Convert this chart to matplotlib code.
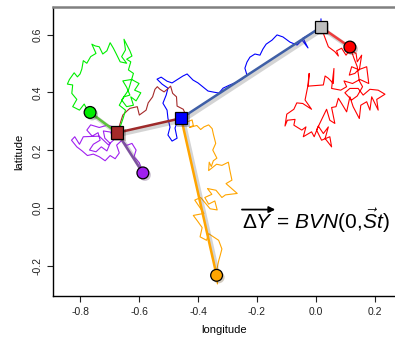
import matplotlib
matplotlib.use("Agg")
import matplotlib.pyplot as plt
import matplotlib.patheffects as pe

plt.rcParams["font.family"] = ["Liberation Sans", "DejaVu Sans"]
plt.rcParams["mathtext.fontset"] = "custom"
plt.rcParams["mathtext.rm"] = "Liberation Sans"
plt.rcParams["mathtext.it"] = "Liberation Sans:italic"

# node positions (longitude, latitude)
root = (0.017, 0.626)
red_tip = (0.115, 0.557)
blue_node = (-0.457, 0.311)
brown_node = (-0.674, 0.261)
green_tip = (-0.766, 0.331)
purple_tip = (-0.587, 0.122)
orange_tip = (-0.337, -0.232)

# simulated walks along each branch
blue_x = [0.017, 0.017, 0.0, -0.044, -0.027, -0.047, -0.064, -0.088, -0.112, -0.132,
          -0.149, -0.169, -0.180, -0.190, -0.207, -0.224, -0.234, -0.241, -0.234, -0.251,
          -0.268, -0.292, -0.315, -0.329, -0.346, -0.366, -0.383, -0.400, -0.417, -0.437,
          -0.451, -0.468, -0.488, -0.505, -0.525, -0.539, -0.522, -0.502, -0.508, -0.519,
          -0.505, -0.502, -0.495, -0.502, -0.488, -0.471, -0.478, -0.468, -0.458]
blue_y = [0.654, 0.626, 0.613, 0.588, 0.554, 0.581, 0.564, 0.574, 0.592, 0.599,
          0.581, 0.567, 0.550, 0.529, 0.533, 0.522, 0.505, 0.484, 0.460, 0.446,
          0.436, 0.426, 0.415, 0.398, 0.401, 0.405, 0.419, 0.433, 0.443, 0.464,
          0.457, 0.446, 0.433, 0.439, 0.453, 0.446, 0.429, 0.415, 0.391, 0.363,
          0.339, 0.311, 0.280, 0.253, 0.232, 0.242, 0.277, 0.304, 0.311]

red_x = [0.017, 0.042, 0.064, 0.076, 0.070, 0.087, 0.102, 0.115, 0.136, 0.140,
         0.155, 0.147, 0.121, 0.113, 0.132, 0.143, 0.172, 0.179, 0.149, 0.124,
         0.095, 0.104, 0.084, 0.053, 0.061, 0.059, 0.042, 0.031, 0.025, -0.026,
         -0.023, -0.028, -0.037, -0.015, -0.045, -0.065, -0.075, -0.099, -0.105, -0.097,
         -0.071, -0.075, -0.048, -0.034, -0.043, -0.015, -0.006, 0.008, 0.025, 0.042,
         0.031, 0.053, 0.047, 0.019, 0.002, 0.036, 0.047, 0.064, 0.053, 0.068,
         0.076, 0.087, 0.104, 0.115, 0.126, 0.147, 0.152, 0.172, 0.183, 0.189,
         0.211, 0.206, 0.234, 0.211, 0.183, 0.160, 0.143, 0.115, 0.098, 0.121,
         0.140, 0.158, 0.147, 0.140, 0.129, 0.120, 0.115]
red_y = [0.626, 0.558, 0.541, 0.526, 0.544, 0.553, 0.529, 0.547, 0.535, 0.506,
         0.529, 0.478, 0.489, 0.460, 0.466, 0.478, 0.489, 0.431, 0.445, 0.431,
         0.440, 0.420, 0.408, 0.414, 0.483, 0.431, 0.449, 0.457, 0.426, 0.422,
         0.466, 0.420, 0.374, 0.342, 0.362, 0.364, 0.342, 0.325, 0.284, 0.304,
         0.307, 0.287, 0.270, 0.281, 0.247, 0.264, 0.247, 0.284, 0.258, 0.281,
         0.241, 0.212, 0.247, 0.235, 0.270, 0.342, 0.304, 0.293, 0.348, 0.351,
         0.380, 0.362, 0.333, 0.385, 0.351, 0.310, 0.356, 0.368, 0.339, 0.385,
         0.339, 0.376, 0.394, 0.408, 0.411, 0.391, 0.414, 0.414, 0.399, 0.374,
         0.388, 0.420, 0.440, 0.489, 0.518, 0.544, 0.557]

brown_x = [-0.456, -0.439, -0.450, -0.471, -0.473, -0.486, -0.493, -0.501, -0.515, -0.529,
           -0.538, -0.546, -0.554, -0.569, -0.576, -0.599, -0.606, -0.631, -0.640, -0.655,
           -0.664, -0.674]
brown_y = [0.310, 0.316, 0.342, 0.353, 0.385, 0.397, 0.422, 0.414, 0.402, 0.411,
           0.420, 0.411, 0.385, 0.364, 0.339, 0.322, 0.351, 0.345, 0.337, 0.322,
           0.293, 0.259]

green_x = [-0.674, -0.664, -0.653, -0.646, -0.667, -0.651, -0.631, -0.642, -0.655, -0.625,
           -0.600, -0.615, -0.594, -0.610, -0.628, -0.619, -0.642, -0.659, -0.636, -0.619,
           -0.636, -0.628, -0.642, -0.624, -0.631, -0.651, -0.646, -0.659, -0.642, -0.664,
           -0.678, -0.687, -0.698, -0.709, -0.723, -0.735, -0.749, -0.760, -0.746, -0.764,
           -0.777, -0.789, -0.794, -0.800, -0.809, -0.820, -0.836, -0.843, -0.825, -0.828,
           -0.811, -0.825, -0.802, -0.786, -0.775, -0.766]
green_y = [0.261, 0.281, 0.314, 0.339, 0.356, 0.385, 0.391, 0.418, 0.440, 0.445,
           0.431, 0.408, 0.399, 0.371, 0.385, 0.356, 0.351, 0.374, 0.408, 0.466,
           0.478, 0.506, 0.515, 0.526, 0.544, 0.584, 0.547, 0.524, 0.501, 0.506,
           0.535, 0.553, 0.572, 0.544, 0.533, 0.558, 0.561, 0.567, 0.535, 0.524,
           0.501, 0.510, 0.481, 0.464, 0.454, 0.468, 0.445, 0.429, 0.426, 0.397,
           0.376, 0.351, 0.339, 0.360, 0.339, 0.333]

purple_x = [-0.674, -0.687, -0.707, -0.735, -0.764, -0.777, -0.759, -0.739, -0.732, -0.755,
            -0.768, -0.746, -0.728, -0.709, -0.698, -0.716, -0.721, -0.696, -0.687, -0.704,
            -0.735, -0.789, -0.802, -0.818, -0.829, -0.811, -0.793, -0.775, -0.755, -0.735,
            -0.715, -0.698, -0.681, -0.667, -0.676, -0.658, -0.642, -0.624, -0.610, -0.617,
            -0.599, -0.594, -0.587]
purple_y = [0.261, 0.281, 0.287, 0.279, 0.288, 0.270, 0.249, 0.261, 0.235, 0.221,
            0.201, 0.195, 0.212, 0.198, 0.224, 0.242, 0.267, 0.263, 0.235, 0.219,
            0.249, 0.247, 0.221, 0.247, 0.235, 0.212, 0.198, 0.182, 0.187, 0.178,
            0.164, 0.182, 0.171, 0.191, 0.218, 0.235, 0.217, 0.224, 0.201, 0.178,
            0.157, 0.141, 0.122]

orange_x = [-0.455, -0.438, -0.420, -0.416, -0.429, -0.404, -0.391, -0.380, -0.364, -0.352,
            -0.348, -0.340, -0.350, -0.336, -0.348, -0.355, -0.362, -0.364, -0.337, -0.319,
            -0.297, -0.292, -0.285, -0.305, -0.267, -0.307, -0.319, -0.339, -0.368, -0.353,
            -0.377, -0.364, -0.343, -0.335, -0.359, -0.391, -0.411, -0.380, -0.416, -0.402,
            -0.386, -0.393, -0.371, -0.364, -0.330, -0.319, -0.325, -0.330, -0.336, -0.334,
            -0.337]
orange_y = [0.310, 0.298, 0.305, 0.286, 0.279, 0.286, 0.272, 0.281, 0.288, 0.275,
            0.256, 0.224, 0.201, 0.173, 0.164, 0.144, 0.159, 0.130, 0.152, 0.148,
            0.159, 0.131, 0.097, 0.085, 0.051, 0.046, 0.037, 0.062, 0.068, 0.048,
            0.037, 0.014, 0.025, -0.006, -0.002, 0.037, 0.028, -0.018, -0.025, -0.044,
            -0.067, -0.099, -0.111, -0.088, -0.111, -0.141, -0.164, -0.182, -0.212, -0.262,
            -0.232]

walks = [
    (blue_x, blue_y, "#0000ff"),
    (red_x, red_y, "#ff0000"),
    (brown_x, brown_y, "#a52a2a"),
    (green_x, green_y, "#00ee00"),
    (purple_x, purple_y, "#a020f0"),
    (orange_x, orange_y, "#ffa500"),
]

# straight branches: parent, child, colour
branches = [
    (root, red_tip, "#ee3b3b"),
    (root, blue_node, "#3f5fa6"),
    (blue_node, brown_node, "#9e2a2a"),
    (blue_node, orange_tip, "#ffa500"),
    (brown_node, green_tip, "#5cc33a"),
    (brown_node, purple_tip, "#7d50a0"),
]

nodes = [
    (root, "s", "#bebebe"),
    (blue_node, "s", "#0000ff"),
    (brown_node, "s", "#a52a2a"),
    (red_tip, "o", "#ff0000"),
    (green_tip, "o", "#00ee00"),
    (purple_tip, "o", "#a020f0"),
    (orange_tip, "o", "#ffa500"),
]

fig = plt.figure(figsize=(3.95, 3.4), dpi=100)
ax = fig.add_axes([0.134, 0.129, 0.866, 0.85])

for xs, ys, c in walks:
    ax.plot(xs, ys, color=c, lw=0.8, zorder=2)

shadow = [pe.SimpleLineShadow(offset=(1.5, -1.5), shadow_color="#555555", alpha=0.25, linewidth=3),
          pe.Normal()]
for a, b, c in branches:
    ax.plot([a[0], b[0]], [a[1], b[1]], color=c, lw=1.8, zorder=3,
            solid_capstyle="butt", path_effects=shadow)

for p, m, c in nodes:
    ms = 9 if m == "s" else 8.5
    ax.plot(p[0], p[1], marker=m, ms=ms, mfc=c, mec="black", mew=0.9, zorder=4,
            path_effects=[pe.SimplePatchShadow(offset=(1.5, -1.5), alpha=0.25), pe.Normal()])

eq = ax.text(0.0, -0.073, r"$\Delta Y\,=\,BVN\mathrm{(0,}\!\vec{S}t\mathrm{)}$",
             fontsize=15, ha="center", va="baseline", zorder=5)
# long arrow over the Delta Y
ax.annotate("", xy=(0.225, 0.9), xytext=(0.0, 0.9), xycoords=eq, textcoords=eq,
            arrowprops=dict(arrowstyle="-|>", color="black", lw=1.3,
                            mutation_scale=9, shrinkA=0, shrinkB=0))

ax.set_xlim(-0.892, 0.268)
ax.set_ylim(-0.304, 0.695)
ax.set_xticks([-0.8, -0.6, -0.4, -0.2, 0.0, 0.2])
ax.set_yticks([-0.2, 0.0, 0.2, 0.4, 0.6])
ax.set_xticklabels(["-0.8", "-0.6", "-0.4", "-0.2", "0.0", "0.2"])
ax.set_yticklabels(["-0.2", "0.0", "0.2", "0.4", "0.6"], rotation=90, va="center")
ax.tick_params(direction="out", length=4, width=0.8, labelsize=7.5, colors="#222222")
ax.set_xlabel("longitude", fontsize=8, labelpad=6)
ax.set_ylabel("latitude", fontsize=8, labelpad=6)

ax.spines["right"].set_visible(False)
ax.spines["top"].set_color("#808080")
ax.spines["top"].set_linewidth(1.8)
ax.spines["left"].set_linewidth(1.0)
ax.spines["bottom"].set_linewidth(1.0)

fig.savefig("out.png", dpi=100)
